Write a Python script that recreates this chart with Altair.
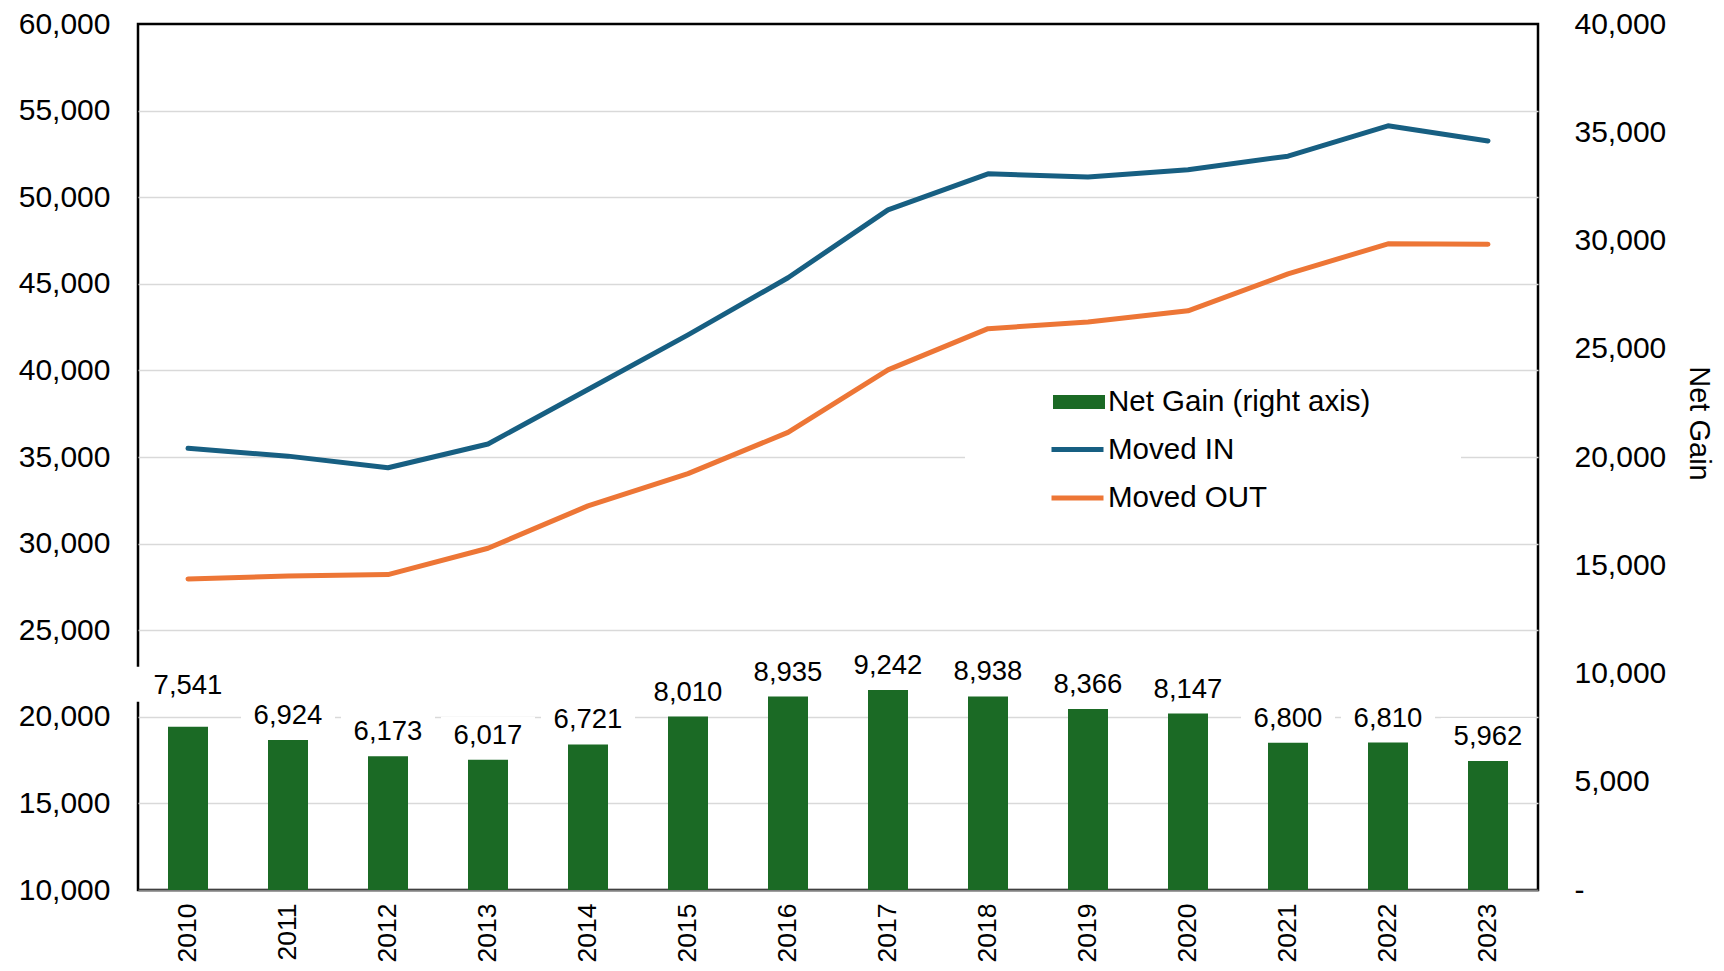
import altair as alt
import pandas as pd

# ---------------- data ----------------
years = [str(y) for y in range(2010, 2024)]
net_gain = [7541, 6924, 6173, 6017, 6721, 8010, 8935, 9242, 8938, 8366, 8147, 6800, 6810, 5962]
moved_in = [35500, 35050, 34380, 35750, 38900, 42050, 45350, 49270, 51350, 51170, 51590, 52370, 54120, 53250]
moved_out = [27960, 28130, 28210, 29730, 32180, 34040, 36420, 40030, 42410, 42800, 43440, 45570, 47310, 47290]

bar_series = ["Net Gain (right axis)"]
bar_colors = ["#1b6a25"]
line_series = ["Moved IN", "Moved OUT"]
line_colors = ["#175f82", "#ed7636"]
left_ticks = list(range(10000, 60001, 5000))
right_ticks = list(range(0, 40001, 5000))

bars_df = pd.DataFrame({"year": years, "net": net_gain, "series": bar_series[0]})
lines_df = pd.DataFrame({
    "year": years + years,
    "value": moved_in + moved_out,
    "series": [line_series[0]] * len(years) + [line_series[1]] * len(years),
})

FONT = "Liberation Sans"

# ---------------- encodings ----------------
x_enc = alt.X(
    "year:N", sort=years,
    scale=alt.Scale(paddingInner=0.6, paddingOuter=0.3),
    axis=alt.Axis(title=None, labelAngle=-90, labelFontSize=26.5, labelFont=FONT,
                  labelColor="black", labelPadding=13, ticks=False, tickSize=0,
                  domain=True, domainColor="#808080", domainWidth=2, grid=False),
)

y_right = alt.Y(
    "net:Q",
    scale=alt.Scale(domain=[0, 40000], nice=False, zero=True),
    axis=alt.Axis(orient="right", values=right_ticks,
                  labelExpr="datum.value == 0 ? '-' : format(datum.value, ',')",
                  labelFontSize=30, labelFont=FONT, labelColor="black",
                  labelPadding=36, ticks=False, tickSize=0, domain=False, grid=False,
                  title="Net Gain", titleFont=FONT, titleFontSize=29,
                  titleFontWeight="normal", titleColor="black", titlePadding=18,
                  titleY=399),
)

y_left = alt.Y(
    "value:Q",
    scale=alt.Scale(domain=[10000, 60000], nice=False, zero=False),
    axis=alt.Axis(orient="left", values=left_ticks,
                  labelExpr="format(datum.value, ',')",
                  labelFontSize=30, labelFont=FONT, labelColor="black",
                  labelPadding=28, ticks=False, tickSize=0, domain=False,
                  grid=True, gridColor="#d9d9d9", gridWidth=1.5,
                  gridOpacity={"condition": {"test": "datum.value === 60000 || datum.value === 10000",
                                             "value": 0},
                               "value": 1},
                  title=None),
)

# ---------------- right-axis layer (bars + labels) ----------------
base_r = alt.Chart(bars_df)

bar_legend = alt.Legend(
    title=None, orient="none", legendX=915, legendY=352, padding=0,
    direction="vertical",
    symbolType="M-1,-0.27H1V0.27H-1Z", symbolSize=2704,
    symbolStrokeWidth=0, symbolOpacity=1,
    labelFont=FONT, labelFontSize=29.5, labelColor="black", labelOffset=3,
    labelLimit=500,
)

bars = base_r.mark_bar().encode(
    x=x_enc, y=y_right,
    fill=alt.Fill("series:N", scale=alt.Scale(domain=bar_series, range=bar_colors),
                  legend=bar_legend),
)

boxes_main = base_r.transform_filter("datum.year != '2010'").mark_point(
    shape="M-4.7,-4.3H4.7V-0.8H-4.7Z", size=400, filled=True,
    color="white", opacity=1, strokeWidth=0,
).encode(x=x_enc, y=y_right)

boxes_first = base_r.transform_filter("datum.year == '2010'").mark_point(
    shape="M-5.3,-6H5.3V-2.5H-5.3Z", size=400, filled=True,
    color="white", opacity=1, strokeWidth=0,
).encode(x=x_enc, y=y_right)

labels_main = base_r.transform_filter("datum.year != '2010'").mark_text(
    dy=-16, baseline="alphabetic", align="center", fontSize=27.5, font=FONT, color="black",
).encode(x=x_enc, y=y_right, text=alt.Text("net:Q", format=","))

labels_first = base_r.transform_filter("datum.year == '2010'").mark_text(
    dy=-33, baseline="alphabetic", align="center", fontSize=27.5, font=FONT, color="black",
).encode(x=x_enc, y=y_right, text=alt.Text("net:Q", format=","))

right = alt.layer(bars, boxes_main, boxes_first, labels_main, labels_first)

# ---------------- left-axis layer (lines) ----------------
line_legend = alt.Legend(
    title="\u00a0", titleOrient="right", titleFontSize=11, titlePadding=190,
    orient="none", legendX=827, legendY=393,
    fillColor="white", padding=4, direction="vertical",
    symbolType="stroke", symbolSize=2704, symbolStrokeWidth=5, symbolOffset=80,
    labelFont=FONT, labelFontSize=29.5, labelColor="black", labelOffset=2,
    rowPadding=5.5, labelLimit=500,
)

lines = alt.Chart(lines_df).mark_line(
    strokeWidth=5, strokeCap="round", strokeJoin="round",
).encode(
    x=x_enc, y=y_left,
    stroke=alt.Stroke("series:N", scale=alt.Scale(domain=line_series, range=line_colors),
                      legend=line_legend),
)

chart = alt.layer(right, lines).resolve_scale(y="independent").properties(
    width=1400, height=866,
    autosize=alt.AutoSizeParams(type="none"),
    padding={"left": 130, "top": 16, "right": 178, "bottom": 73},
).configure(font=FONT).configure_view(stroke="black", strokeWidth=2.5)

chart.save("out.html", embed_options={"renderer": "svg", "actions": False})
